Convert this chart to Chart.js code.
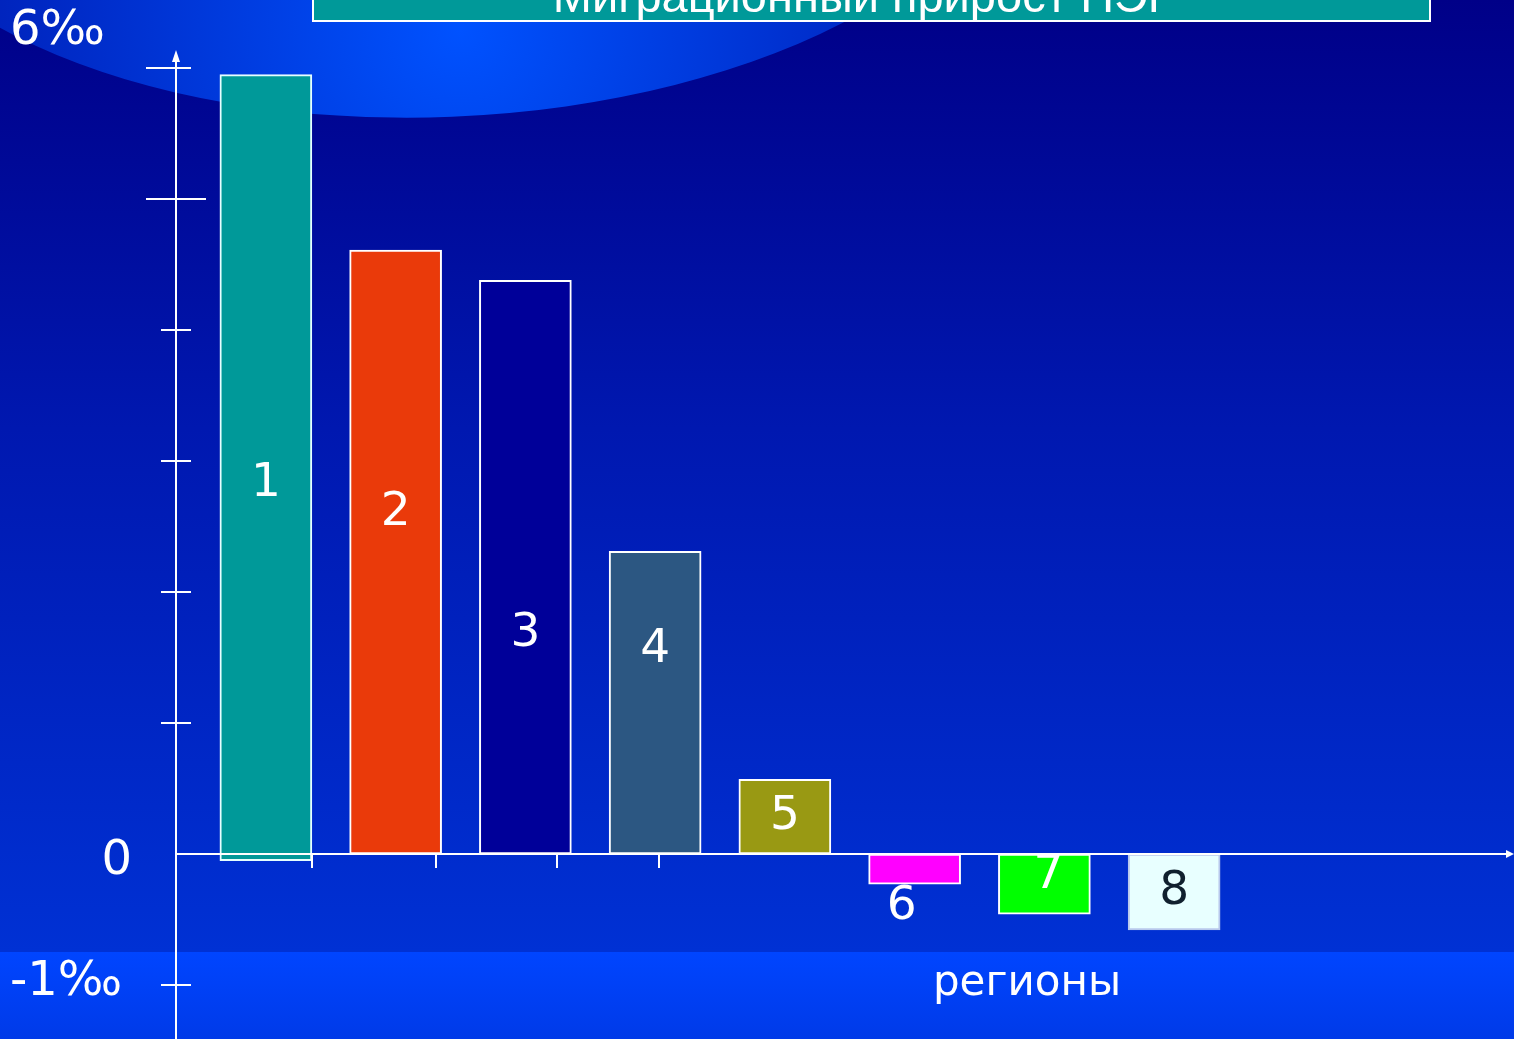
<!DOCTYPE html>
<html>
<head>
<meta charset="utf-8">
<script src="https://cdn.jsdelivr.net/npm/chart.js@4"></script>
<style>
  html, body { margin: 0; padding: 0; background: #000088; overflow: hidden; }
  #chart { display: block; }
</style>
</head>
<body>
<canvas id="chart" width="1514" height="1039"></canvas>
<script>
// regions 1..8, migration growth in per mille
const regions = ['1', '2', '3', '4', '5', '6', '7', '8'];
const regionValues = [5.95, 4.61, 4.38, 2.31, 0.57, -0.23, -0.46, -0.58];
const regionBase = [-0.05, 0, 0, 0, 0, 0, 0, 0];
const regionColors = ['#009999', '#ea3a0a', '#000099', '#2c5782', '#999913', '#ff00ff', '#00ff00', '#e8ffff'];
const yTicks = [-1, 0, 1, 2, 3, 4, 5, 6];
const yLabels = { '6': '6‰', '0': '0', '-1': '-1‰' };
const titleText = 'Миграционный прирост ПЭР';
const xTitle = 'регионы';

// label tweaks (px) so numbers sit where the slide has them
const labelShiftY = [16, -39, 67, -53, 0, 38, -8, 0];
const labelShiftX = [0, 0, 0, 0, 0, -13, 4, 0];
const labelColors = ['#fff', '#fff', '#fff', '#fff', '#fff', '#fff', '#fff', '#10202e'];

const W = 1514;
const H = 1039;
const AXIS_X = 176;

const slideBackground = {
  id: 'slideBackground',
  beforeDraw(chart) {
    const ctx = chart.ctx;
    ctx.save();
    const bg = ctx.createLinearGradient(0, 0, 0, 952);
    bg.addColorStop(0, '#000088');
    bg.addColorStop(0.45, '#0018b0');
    bg.addColorStop(1, '#0031d4');
    ctx.fillStyle = bg;
    ctx.fillRect(0, 0, W, H);

    // light ellipse at the top
    ctx.save();
    ctx.beginPath();
    ctx.ellipse(440, -183, 585, 300, -0.04, 0, Math.PI * 2);
    ctx.clip();
    const glow = ctx.createRadialGradient(460, 30, 0, 460, 30, 500);
    glow.addColorStop(0, '#0052ff');
    glow.addColorStop(1, '#0020b8');
    ctx.fillStyle = glow;
    ctx.fillRect(0, 0, W, 200);
    ctx.restore();

    // bottom strip
    const strip = ctx.createLinearGradient(0, 952, 0, H);
    strip.addColorStop(0, '#0045ff');
    strip.addColorStop(1, '#003ae8');
    ctx.fillStyle = strip;
    ctx.fillRect(0, 952, W, H - 952);

    // title box, cut by the top edge
    ctx.fillStyle = '#009999';
    ctx.fillRect(312, -20, 1119, 42);
    ctx.strokeStyle = '#ffffff';
    ctx.lineWidth = 2;
    ctx.strokeRect(313, -20, 1117, 41);
    ctx.fillStyle = '#ffffff';
    ctx.font = '47px "Liberation Sans", Arial, sans-serif';
    ctx.textAlign = 'center';
    ctx.textBaseline = 'alphabetic';
    ctx.fillText(titleText, 866, 12);
    ctx.restore();
  }
};

const slideAxes = {
  id: 'slideAxes',
  afterDatasetsDraw(chart) {
    const ctx = chart.ctx;
    const y = chart.scales.y;
    const x = chart.scales.x;
    const zero = y.getPixelForValue(0);
    ctx.save();
    ctx.strokeStyle = '#ffffff';
    ctx.fillStyle = '#ffffff';
    ctx.lineWidth = 2;

    // y axis with arrow
    ctx.beginPath();
    ctx.moveTo(AXIS_X, H);
    ctx.lineTo(AXIS_X, 58);
    ctx.stroke();
    ctx.beginPath();
    ctx.moveTo(AXIS_X, 50);
    ctx.lineTo(AXIS_X - 4, 62);
    ctx.lineTo(AXIS_X + 4, 62);
    ctx.closePath();
    ctx.fill();

    // x axis with arrow
    ctx.beginPath();
    ctx.moveTo(AXIS_X, zero);
    ctx.lineTo(W - 6, zero);
    ctx.stroke();
    ctx.beginPath();
    ctx.moveTo(W, zero);
    ctx.lineTo(W - 8, zero - 4);
    ctx.lineTo(W - 8, zero + 4);
    ctx.closePath();
    ctx.fill();

    // y ticks
    yTicks.forEach(v => {
      if (v === 0) return;
      const py = Math.round(y.getPixelForValue(v));
      const left = v >= 5 ? 146 : 161;
      const right = v === 5 ? 206 : 191;
      ctx.beginPath();
      ctx.moveTo(left, py);
      ctx.lineTo(right, py);
      ctx.stroke();
    });

    // small x ticks under the axis
    const half = 46;
    const xt = [
      x.getPixelForValue(0) + half,
      x.getPixelForValue(1) + half - 6,
      x.getPixelForValue(2) + half - 14,
      x.getPixelForValue(3) + 4
    ];
    xt.forEach(px => {
      ctx.beginPath();
      ctx.moveTo(Math.round(px), zero);
      ctx.lineTo(Math.round(px), zero + 14);
      ctx.stroke();
    });

    // y labels
    ctx.font = '48px "DejaVu Sans", Verdana, sans-serif';
    ctx.textBaseline = 'middle';
    ctx.textAlign = 'left';
    ctx.fillText(yLabels['6'], 10, y.getPixelForValue(6) - 36);
    ctx.fillText(yLabels['-1'], 10, y.getPixelForValue(-1) - 2);
    ctx.textAlign = 'right';
    ctx.fillText(yLabels['0'], 132, zero + 8);

    // axis title
    ctx.font = '42px "DejaVu Sans", Verdana, sans-serif';
    ctx.textAlign = 'center';
    ctx.fillText(xTitle, 1027, 984);

    // bar numbers
    ctx.font = '47px "DejaVu Sans", Verdana, sans-serif';
    const meta = chart.getDatasetMeta(0);
    meta.data.forEach((bar, i) => {
      const mid = (bar.y + bar.base) / 2;
      ctx.fillStyle = labelColors[i];
      ctx.fillText(regions[i], bar.x + labelShiftX[i], mid + labelShiftY[i]);
    });
    ctx.restore();
  }
};

new Chart(document.getElementById('chart'), {
  type: 'bar',
  data: {
    labels: regions,
    datasets: [{
      data: regionValues.map((v, i) => [regionBase[i], v]),
      backgroundColor: regionColors,
      borderColor: ['#e6ffff', '#ffffff', '#ffffff', '#ffffff', '#ffffff', '#ffffff', '#ffffff', '#b8c8ec'],
      borderWidth: 2,
      borderSkipped: false,
      barThickness: 92
    }]
  },
  options: {
    responsive: false,
    animation: false,
    layout: { padding: { left: 201, right: 275, top: 68, bottom: 54 } },
    plugins: {
      legend: { display: false },
      tooltip: { enabled: false }
    },
    scales: {
      x: { display: false },
      y: { display: false, min: -1, max: 6 }
    }
  },
  plugins: [slideBackground, slideAxes]
});
</script>
</body>
</html>
